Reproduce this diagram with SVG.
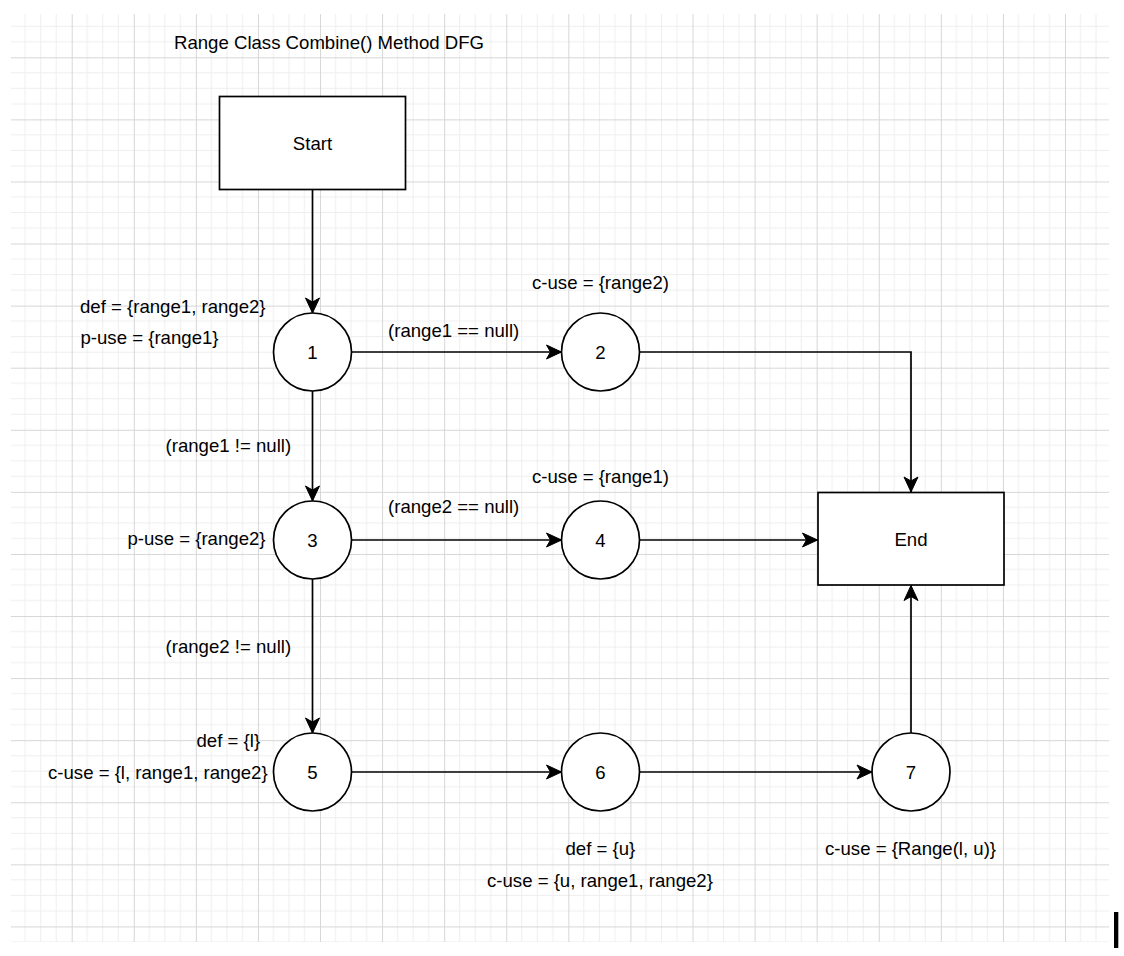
<svg xmlns="http://www.w3.org/2000/svg" width="1124" height="956" viewBox="0 0 1124 956">
  <style>
    text { font-family: "Liberation Sans", Arial, Helvetica, sans-serif; font-size: 18.6px; fill: #000; }
    .c { text-anchor: middle; }
    .node { fill: #fff; stroke: #000; stroke-width: 1.7; }
    .edge { fill: none; stroke: #000; stroke-width: 1.7; marker-end: url(#arrow); }
  </style>
  <defs>
    <pattern id="grid" patternUnits="userSpaceOnUse" x="71.7" y="57.3" width="62.08" height="62.08">
      <rect x="15.02" y="0" width="1" height="62.08" fill="#eeeeee"/>
      <rect x="30.54" y="0" width="1" height="62.08" fill="#eeeeee"/>
      <rect x="46.06" y="0" width="1" height="62.08" fill="#eeeeee"/>
      <rect x="0" y="15.02" width="62.08" height="1" fill="#eeeeee"/>
      <rect x="0" y="30.54" width="62.08" height="1" fill="#eeeeee"/>
      <rect x="0" y="46.06" width="62.08" height="1" fill="#eeeeee"/>
      <rect x="0" y="0" width="1" height="62.08" fill="#d6d6d6"/>
      <rect x="0" y="0" width="62.08" height="1" fill="#d6d6d6"/>
    </pattern>
    <marker id="arrow" markerUnits="userSpaceOnUse" markerWidth="18" markerHeight="18" viewBox="-16 -9 18 18" refX="0" refY="0" orient="auto">
      <path d="M0,0 L-15,-7 L-11,0 L-15,7 Z" fill="#000" stroke="#000" stroke-width="1"/>
    </marker>
  </defs>

  <rect x="0" y="0" width="1124" height="956" fill="#ffffff"/>
  <rect x="11" y="14" width="1098" height="928" fill="url(#grid)"/>

  <text id="title" x="174" y="49">Range Class Combine() Method DFG</text>

  <g id="connectors">
    <path class="edge" d="M312.5,189.5 L312.5,313"/>
    <path class="edge" d="M351.5,352 L561.5,352"/>
    <path class="edge" d="M639.5,352 L911,352 L911,492"/>
    <path class="edge" d="M312.5,391 L312.5,501"/>
    <path class="edge" d="M351.5,540 L561.5,540"/>
    <path class="edge" d="M639.5,540 L817.5,540"/>
    <path class="edge" d="M312.5,579 L312.5,733"/>
    <path class="edge" d="M351.5,772 L561.5,772"/>
    <path class="edge" d="M639.5,772 L872,772"/>
    <path class="edge" d="M911,733 L911,585.5"/>
  </g>

  <g id="node-start">
    <rect class="node" x="219.5" y="96.5" width="186" height="93"/>
    <text class="c" x="312.5" y="149.5">Start</text>
  </g>
  <g id="node-1">
    <circle class="node" cx="312.5" cy="352" r="39"/>
    <text class="c" x="312.5" y="358.7">1</text>
  </g>
  <g id="node-2">
    <circle class="node" cx="600.5" cy="352" r="39"/>
    <text class="c" x="600.5" y="358.7">2</text>
  </g>
  <g id="node-3">
    <circle class="node" cx="312.5" cy="540" r="39"/>
    <text class="c" x="312.5" y="546.7">3</text>
  </g>
  <g id="node-4">
    <circle class="node" cx="600.5" cy="540" r="39"/>
    <text class="c" x="600.5" y="546.7">4</text>
  </g>
  <g id="node-5">
    <circle class="node" cx="312.5" cy="772" r="39"/>
    <text class="c" x="312.5" y="778.7">5</text>
  </g>
  <g id="node-6">
    <circle class="node" cx="600.5" cy="772" r="39"/>
    <text class="c" x="600.5" y="778.7">6</text>
  </g>
  <g id="node-7">
    <circle class="node" cx="911" cy="772" r="39"/>
    <text class="c" x="911" y="778.7">7</text>
  </g>
  <g id="node-end">
    <rect class="node" x="818" y="492.5" width="186" height="92.5"/>
    <text class="c" x="911" y="545.5">End</text>
  </g>

  <g id="labels">
    <text x="80" y="312.5">def = {range1, range2}</text>
    <text x="80.5" y="343.5">p-use = {range1}</text>
    <text x="532" y="288.5">c-use = {range2)</text>
    <text x="388" y="336.5">(range1 == null)</text>
    <text x="165.5" y="451.5">(range1 != null)</text>
    <text x="532" y="482.5">c-use = {range1)</text>
    <text x="388" y="513">(range2 == null)</text>
    <text x="127.5" y="545">p-use = {range2}</text>
    <text x="165.5" y="653">(range2 != null)</text>
    <text x="196.5" y="747">def = {l}</text>
    <text x="48" y="778.5">c-use = {l, range1, range2}</text>
    <text x="565.5" y="855">def = {u}</text>
    <text x="487" y="886.5">c-use = {u, range1, range2}</text>
    <text x="825" y="855">c-use = {Range(l, u)}</text>
  </g>

  <rect x="1114" y="912" width="4.3" height="36" fill="#000"/>
</svg>
